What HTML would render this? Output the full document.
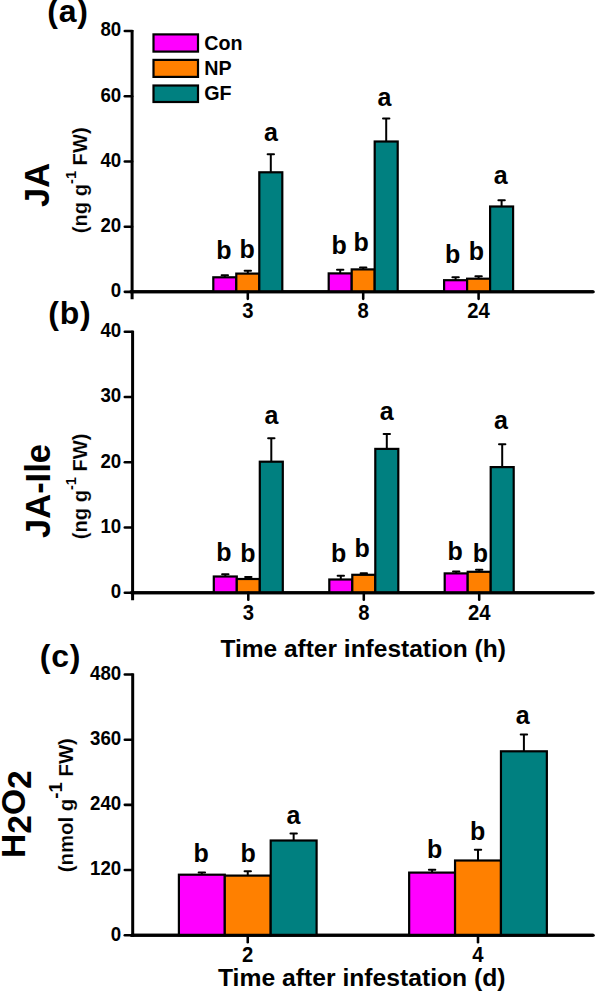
<!DOCTYPE html><html><head><meta charset="utf-8"><style>html,body{margin:0;padding:0;background:#fff;}svg{display:block;}</style></head><body><svg width="596" height="992" viewBox="0 0 596 992" font-family='"Liberation Sans", sans-serif' font-weight="bold">
<rect width="596" height="992" fill="#fff"/>
<line x1="132.1" y1="29.95" x2="132.1" y2="299.35" stroke="#000" stroke-width="3.0"/>
<line x1="130.60" y1="291.85" x2="593.3" y2="291.85" stroke="#000" stroke-width="3.0" stroke-linecap="butt"/>
<line x1="124.8" y1="31.05" x2="132.1" y2="31.05" stroke="#000" stroke-width="2.55" stroke-linecap="round"/>
<text transform="translate(121.20,36.45) scale(1.0,1.05)" font-size="18.7" text-anchor="end" >80</text>
<line x1="124.8" y1="96.25" x2="132.1" y2="96.25" stroke="#000" stroke-width="2.55" stroke-linecap="round"/>
<text transform="translate(121.20,101.65) scale(1.0,1.05)" font-size="18.7" text-anchor="end" >60</text>
<line x1="124.8" y1="161.45" x2="132.1" y2="161.45" stroke="#000" stroke-width="2.55" stroke-linecap="round"/>
<text transform="translate(121.20,166.85) scale(1.0,1.05)" font-size="18.7" text-anchor="end" >40</text>
<line x1="124.8" y1="226.65" x2="132.1" y2="226.65" stroke="#000" stroke-width="2.55" stroke-linecap="round"/>
<text transform="translate(121.20,232.05) scale(1.0,1.05)" font-size="18.7" text-anchor="end" >20</text>
<line x1="124.8" y1="291.85" x2="132.1" y2="291.85" stroke="#000" stroke-width="2.55" stroke-linecap="round"/>
<text transform="translate(121.20,297.25) scale(1.0,1.05)" font-size="18.7" text-anchor="end" >0</text>
<line x1="224.80" y1="275.30" x2="224.80" y2="277.30" stroke="#000" stroke-width="2.0"/>
<line x1="221.60" y1="275.30" x2="228.00" y2="275.30" stroke="#000" stroke-width="2.0" stroke-linecap="round"/>
<rect x="213.30" y="277.30" width="23.00" height="14.55" fill="#ff00ff" stroke="#000" stroke-width="2.2"/>
<line x1="247.80" y1="270.80" x2="247.80" y2="273.60" stroke="#000" stroke-width="2.0"/>
<line x1="244.60" y1="270.80" x2="251.00" y2="270.80" stroke="#000" stroke-width="2.0" stroke-linecap="round"/>
<rect x="236.30" y="273.60" width="23.00" height="18.25" fill="#ff8000" stroke="#000" stroke-width="2.2"/>
<line x1="270.80" y1="154.30" x2="270.80" y2="172.30" stroke="#000" stroke-width="2.0"/>
<line x1="267.60" y1="154.30" x2="274.00" y2="154.30" stroke="#000" stroke-width="2.0" stroke-linecap="round"/>
<rect x="259.30" y="172.30" width="23.00" height="119.55" fill="#008080" stroke="#000" stroke-width="2.2"/>
<line x1="247.80" y1="291.85" x2="247.80" y2="298.85" stroke="#000" stroke-width="2.55" stroke-linecap="round"/>
<line x1="340.20" y1="269.80" x2="340.20" y2="273.40" stroke="#000" stroke-width="2.0"/>
<line x1="337.00" y1="269.80" x2="343.40" y2="269.80" stroke="#000" stroke-width="2.0" stroke-linecap="round"/>
<rect x="328.70" y="273.40" width="23.00" height="18.45" fill="#ff00ff" stroke="#000" stroke-width="2.2"/>
<line x1="363.20" y1="267.60" x2="363.20" y2="269.40" stroke="#000" stroke-width="2.0"/>
<line x1="360.00" y1="267.60" x2="366.40" y2="267.60" stroke="#000" stroke-width="2.0" stroke-linecap="round"/>
<rect x="351.70" y="269.40" width="23.00" height="22.45" fill="#ff8000" stroke="#000" stroke-width="2.2"/>
<line x1="386.20" y1="118.60" x2="386.20" y2="141.50" stroke="#000" stroke-width="2.0"/>
<line x1="383.00" y1="118.60" x2="389.40" y2="118.60" stroke="#000" stroke-width="2.0" stroke-linecap="round"/>
<rect x="374.70" y="141.50" width="23.00" height="150.35" fill="#008080" stroke="#000" stroke-width="2.2"/>
<line x1="363.20" y1="291.85" x2="363.20" y2="298.85" stroke="#000" stroke-width="2.55" stroke-linecap="round"/>
<line x1="455.60" y1="277.30" x2="455.60" y2="280.20" stroke="#000" stroke-width="2.0"/>
<line x1="452.40" y1="277.30" x2="458.80" y2="277.30" stroke="#000" stroke-width="2.0" stroke-linecap="round"/>
<rect x="444.10" y="280.20" width="23.00" height="11.65" fill="#ff00ff" stroke="#000" stroke-width="2.2"/>
<line x1="478.60" y1="276.20" x2="478.60" y2="278.70" stroke="#000" stroke-width="2.0"/>
<line x1="475.40" y1="276.20" x2="481.80" y2="276.20" stroke="#000" stroke-width="2.0" stroke-linecap="round"/>
<rect x="467.10" y="278.70" width="23.00" height="13.15" fill="#ff8000" stroke="#000" stroke-width="2.2"/>
<line x1="501.60" y1="200.30" x2="501.60" y2="206.50" stroke="#000" stroke-width="2.0"/>
<line x1="498.40" y1="200.30" x2="504.80" y2="200.30" stroke="#000" stroke-width="2.0" stroke-linecap="round"/>
<rect x="490.10" y="206.50" width="23.00" height="85.35" fill="#008080" stroke="#000" stroke-width="2.2"/>
<line x1="478.60" y1="291.85" x2="478.60" y2="298.85" stroke="#000" stroke-width="2.55" stroke-linecap="round"/>
<line x1="130.60" y1="291.85" x2="593.3" y2="291.85" stroke="#000" stroke-width="3.0" stroke-linecap="round"/>
<text x="223.84" y="258.89" font-size="25" text-anchor="middle">b</text>
<text x="247.09" y="257.84" font-size="25" text-anchor="middle">b</text>
<text x="270.86" y="140.70" font-size="25" text-anchor="middle">a</text>
<text x="339.24" y="253.74" font-size="25" text-anchor="middle">b</text>
<text x="361.04" y="251.34" font-size="25" text-anchor="middle">b</text>
<text x="384.51" y="106.10" font-size="25" text-anchor="middle">a</text>
<text x="452.58" y="262.69" font-size="25" text-anchor="middle">b</text>
<text x="476.38" y="260.34" font-size="25" text-anchor="middle">b</text>
<text x="500.61" y="184.10" font-size="25" text-anchor="middle">a</text>
<text transform="translate(247.80,318.10) scale(1.04,1.13)" font-size="19.5" text-anchor="middle" >3</text>
<text transform="translate(363.20,318.10) scale(1.04,1.13)" font-size="19.5" text-anchor="middle" >8</text>
<text transform="translate(478.60,318.10) scale(1.04,1.13)" font-size="19.5" text-anchor="middle" >24</text>
<line x1="132.6" y1="330.70" x2="132.6" y2="600.30" stroke="#000" stroke-width="3.0"/>
<line x1="131.10" y1="592.8" x2="593.3" y2="592.8" stroke="#000" stroke-width="3.0" stroke-linecap="butt"/>
<line x1="124.8" y1="331.80" x2="132.6" y2="331.80" stroke="#000" stroke-width="2.55" stroke-linecap="round"/>
<text transform="translate(121.20,337.20) scale(1.0,1.05)" font-size="18.7" text-anchor="end" >40</text>
<line x1="124.8" y1="397.05" x2="132.6" y2="397.05" stroke="#000" stroke-width="2.55" stroke-linecap="round"/>
<text transform="translate(121.20,402.45) scale(1.0,1.05)" font-size="18.7" text-anchor="end" >30</text>
<line x1="124.8" y1="462.30" x2="132.6" y2="462.30" stroke="#000" stroke-width="2.55" stroke-linecap="round"/>
<text transform="translate(121.20,467.70) scale(1.0,1.05)" font-size="18.7" text-anchor="end" >20</text>
<line x1="124.8" y1="527.55" x2="132.6" y2="527.55" stroke="#000" stroke-width="2.55" stroke-linecap="round"/>
<text transform="translate(121.20,532.95) scale(1.0,1.05)" font-size="18.7" text-anchor="end" >10</text>
<line x1="124.8" y1="592.80" x2="132.6" y2="592.80" stroke="#000" stroke-width="2.55" stroke-linecap="round"/>
<text transform="translate(121.20,598.20) scale(1.0,1.05)" font-size="18.7" text-anchor="end" >0</text>
<line x1="225.30" y1="574.30" x2="225.30" y2="576.50" stroke="#000" stroke-width="2.0"/>
<line x1="222.10" y1="574.30" x2="228.50" y2="574.30" stroke="#000" stroke-width="2.0" stroke-linecap="round"/>
<rect x="213.80" y="576.50" width="23.00" height="16.30" fill="#ff00ff" stroke="#000" stroke-width="2.2"/>
<line x1="248.30" y1="577.00" x2="248.30" y2="579.00" stroke="#000" stroke-width="2.0"/>
<line x1="245.10" y1="577.00" x2="251.50" y2="577.00" stroke="#000" stroke-width="2.0" stroke-linecap="round"/>
<rect x="236.80" y="579.00" width="23.00" height="13.80" fill="#ff8000" stroke="#000" stroke-width="2.2"/>
<line x1="271.30" y1="438.30" x2="271.30" y2="461.70" stroke="#000" stroke-width="2.0"/>
<line x1="268.10" y1="438.30" x2="274.50" y2="438.30" stroke="#000" stroke-width="2.0" stroke-linecap="round"/>
<rect x="259.80" y="461.70" width="23.00" height="131.10" fill="#008080" stroke="#000" stroke-width="2.2"/>
<line x1="248.30" y1="592.8" x2="248.30" y2="599.80" stroke="#000" stroke-width="2.55" stroke-linecap="round"/>
<line x1="340.80" y1="575.70" x2="340.80" y2="579.50" stroke="#000" stroke-width="2.0"/>
<line x1="337.60" y1="575.70" x2="344.00" y2="575.70" stroke="#000" stroke-width="2.0" stroke-linecap="round"/>
<rect x="329.30" y="579.50" width="23.00" height="13.30" fill="#ff00ff" stroke="#000" stroke-width="2.2"/>
<line x1="363.80" y1="573.20" x2="363.80" y2="574.80" stroke="#000" stroke-width="2.0"/>
<line x1="360.60" y1="573.20" x2="367.00" y2="573.20" stroke="#000" stroke-width="2.0" stroke-linecap="round"/>
<rect x="352.30" y="574.80" width="23.00" height="18.00" fill="#ff8000" stroke="#000" stroke-width="2.2"/>
<line x1="386.80" y1="433.90" x2="386.80" y2="448.90" stroke="#000" stroke-width="2.0"/>
<line x1="383.60" y1="433.90" x2="390.00" y2="433.90" stroke="#000" stroke-width="2.0" stroke-linecap="round"/>
<rect x="375.30" y="448.90" width="23.00" height="143.90" fill="#008080" stroke="#000" stroke-width="2.2"/>
<line x1="363.80" y1="592.8" x2="363.80" y2="599.80" stroke="#000" stroke-width="2.55" stroke-linecap="round"/>
<line x1="456.20" y1="571.50" x2="456.20" y2="573.40" stroke="#000" stroke-width="2.0"/>
<line x1="453.00" y1="571.50" x2="459.40" y2="571.50" stroke="#000" stroke-width="2.0" stroke-linecap="round"/>
<rect x="444.70" y="573.40" width="23.00" height="19.40" fill="#ff00ff" stroke="#000" stroke-width="2.2"/>
<line x1="479.20" y1="569.80" x2="479.20" y2="571.80" stroke="#000" stroke-width="2.0"/>
<line x1="476.00" y1="569.80" x2="482.40" y2="569.80" stroke="#000" stroke-width="2.0" stroke-linecap="round"/>
<rect x="467.70" y="571.80" width="23.00" height="21.00" fill="#ff8000" stroke="#000" stroke-width="2.2"/>
<line x1="502.20" y1="444.30" x2="502.20" y2="467.10" stroke="#000" stroke-width="2.0"/>
<line x1="499.00" y1="444.30" x2="505.40" y2="444.30" stroke="#000" stroke-width="2.0" stroke-linecap="round"/>
<rect x="490.70" y="467.10" width="23.00" height="125.70" fill="#008080" stroke="#000" stroke-width="2.2"/>
<line x1="479.20" y1="592.8" x2="479.20" y2="599.80" stroke="#000" stroke-width="2.55" stroke-linecap="round"/>
<line x1="131.10" y1="592.8" x2="593.3" y2="592.8" stroke="#000" stroke-width="3.0" stroke-linecap="round"/>
<text x="223.84" y="560.69" font-size="25" text-anchor="middle">b</text>
<text x="247.94" y="562.24" font-size="25" text-anchor="middle">b</text>
<text x="271.36" y="423.95" font-size="25" text-anchor="middle">a</text>
<text x="338.74" y="562.24" font-size="25" text-anchor="middle">b</text>
<text x="362.04" y="556.89" font-size="25" text-anchor="middle">b</text>
<text x="386.81" y="420.00" font-size="25" text-anchor="middle">a</text>
<text x="455.04" y="560.19" font-size="25" text-anchor="middle">b</text>
<text x="480.29" y="562.29" font-size="25" text-anchor="middle">b</text>
<text x="500.86" y="429.35" font-size="25" text-anchor="middle">a</text>
<text transform="translate(248.30,619.50) scale(1.04,1.13)" font-size="19.5" text-anchor="middle" >3</text>
<text transform="translate(363.80,619.50) scale(1.04,1.13)" font-size="19.5" text-anchor="middle" >8</text>
<text transform="translate(479.20,619.50) scale(1.04,1.13)" font-size="19.5" text-anchor="middle" >24</text>
<line x1="132.7" y1="673.40" x2="132.7" y2="936.70" stroke="#000" stroke-width="3.0"/>
<line x1="131.20" y1="935.2" x2="593.3" y2="935.2" stroke="#000" stroke-width="3.0" stroke-linecap="butt"/>
<line x1="124.8" y1="674.50" x2="132.7" y2="674.50" stroke="#000" stroke-width="2.55" stroke-linecap="round"/>
<text transform="translate(121.20,679.90) scale(1.0,1.05)" font-size="18.7" text-anchor="end" >480</text>
<line x1="124.8" y1="739.67" x2="132.7" y2="739.67" stroke="#000" stroke-width="2.55" stroke-linecap="round"/>
<text transform="translate(121.20,745.07) scale(1.0,1.05)" font-size="18.7" text-anchor="end" >360</text>
<line x1="124.8" y1="804.85" x2="132.7" y2="804.85" stroke="#000" stroke-width="2.55" stroke-linecap="round"/>
<text transform="translate(121.20,810.25) scale(1.0,1.05)" font-size="18.7" text-anchor="end" >240</text>
<line x1="124.8" y1="870.03" x2="132.7" y2="870.03" stroke="#000" stroke-width="2.55" stroke-linecap="round"/>
<text transform="translate(121.20,875.43) scale(1.0,1.05)" font-size="18.7" text-anchor="end" >120</text>
<line x1="124.8" y1="935.20" x2="132.7" y2="935.20" stroke="#000" stroke-width="2.55" stroke-linecap="round"/>
<text transform="translate(121.20,940.60) scale(1.0,1.05)" font-size="18.7" text-anchor="end" >0</text>
<line x1="201.85" y1="872.60" x2="201.85" y2="874.70" stroke="#000" stroke-width="2.0"/>
<line x1="198.65" y1="872.60" x2="205.05" y2="872.60" stroke="#000" stroke-width="2.0" stroke-linecap="round"/>
<rect x="178.90" y="874.70" width="45.90" height="60.50" fill="#ff00ff" stroke="#000" stroke-width="2.2"/>
<line x1="247.75" y1="871.30" x2="247.75" y2="875.60" stroke="#000" stroke-width="2.0"/>
<line x1="244.55" y1="871.30" x2="250.95" y2="871.30" stroke="#000" stroke-width="2.0" stroke-linecap="round"/>
<rect x="224.80" y="875.60" width="45.90" height="59.60" fill="#ff8000" stroke="#000" stroke-width="2.2"/>
<line x1="293.65" y1="833.50" x2="293.65" y2="840.50" stroke="#000" stroke-width="2.0"/>
<line x1="290.45" y1="833.50" x2="296.85" y2="833.50" stroke="#000" stroke-width="2.0" stroke-linecap="round"/>
<rect x="270.70" y="840.50" width="45.90" height="94.70" fill="#008080" stroke="#000" stroke-width="2.2"/>
<line x1="247.75" y1="935.2" x2="247.75" y2="942.20" stroke="#000" stroke-width="2.55" stroke-linecap="round"/>
<line x1="432.10" y1="869.70" x2="432.10" y2="872.60" stroke="#000" stroke-width="2.0"/>
<line x1="428.90" y1="869.70" x2="435.30" y2="869.70" stroke="#000" stroke-width="2.0" stroke-linecap="round"/>
<rect x="409.15" y="872.60" width="45.90" height="62.60" fill="#ff00ff" stroke="#000" stroke-width="2.2"/>
<line x1="478.00" y1="849.80" x2="478.00" y2="860.50" stroke="#000" stroke-width="2.0"/>
<line x1="474.80" y1="849.80" x2="481.20" y2="849.80" stroke="#000" stroke-width="2.0" stroke-linecap="round"/>
<rect x="455.05" y="860.50" width="45.90" height="74.70" fill="#ff8000" stroke="#000" stroke-width="2.2"/>
<line x1="523.90" y1="734.60" x2="523.90" y2="751.30" stroke="#000" stroke-width="2.0"/>
<line x1="520.70" y1="734.60" x2="527.10" y2="734.60" stroke="#000" stroke-width="2.0" stroke-linecap="round"/>
<rect x="500.95" y="751.30" width="45.90" height="183.90" fill="#008080" stroke="#000" stroke-width="2.2"/>
<line x1="478.00" y1="935.2" x2="478.00" y2="942.20" stroke="#000" stroke-width="2.55" stroke-linecap="round"/>
<line x1="131.20" y1="935.2" x2="593.3" y2="935.2" stroke="#000" stroke-width="3.0" stroke-linecap="round"/>
<text x="201.24" y="862.39" font-size="25" text-anchor="middle">b</text>
<text x="248.03" y="862.39" font-size="25" text-anchor="middle">b</text>
<text x="293.56" y="823.85" font-size="25" text-anchor="middle">a</text>
<text x="434.58" y="858.24" font-size="25" text-anchor="middle">b</text>
<text x="477.54" y="840.44" font-size="25" text-anchor="middle">b</text>
<text x="522.61" y="723.70" font-size="25" text-anchor="middle">a</text>
<text transform="translate(247.75,962.30) scale(1.04,1.13)" font-size="19.5" text-anchor="middle" >2</text>
<text transform="translate(478.00,962.30) scale(1.04,1.13)" font-size="19.5" text-anchor="middle" >4</text>
<rect x="153.50" y="34.40" width="44.50" height="17.20" fill="#ff00ff" stroke="#000" stroke-width="2.2"/>
<text x="204.20" y="49.58" font-size="19.7" text-anchor="start" >Con</text>
<rect x="153.50" y="59.90" width="44.50" height="17.00" fill="#ff8000" stroke="#000" stroke-width="2.2"/>
<text x="204.20" y="74.98" font-size="19.7" text-anchor="start" >NP</text>
<rect x="153.50" y="85.50" width="44.50" height="16.50" fill="#008080" stroke="#000" stroke-width="2.2"/>
<text x="204.20" y="100.33" font-size="19.7" text-anchor="start" >GF</text>
<text x="47.20" y="21.50" font-size="32" text-anchor="start" letter-spacing="0.8">(a)</text>
<text x="48.20" y="323.50" font-size="32" text-anchor="start" letter-spacing="0.8">(b)</text>
<text x="39.70" y="666.50" font-size="32" text-anchor="start" letter-spacing="0.8">(c)</text>
<text x="363.10" y="657.20" font-size="24.5" text-anchor="middle" >Time after infestation (h)</text>
<text x="361.80" y="986.20" font-size="24.7" text-anchor="middle" >Time after infestation (d)</text>
<text transform="translate(49.00,185.00) rotate(-90)" text-anchor="middle" ><tspan font-size="34.5">JA</tspan></text>
<text transform="translate(50.40,491.00) rotate(-90)" text-anchor="middle" ><tspan font-size="34.5">JA-Ile</tspan></text>
<text transform="translate(25.40,814.20) rotate(-90)" text-anchor="middle" ><tspan font-size="33.5">H</tspan><tspan font-size="33.5" dy="5.9">2</tspan><tspan font-size="33.5" dy="-5.9">O</tspan><tspan font-size="33.5" dy="5.9">2</tspan></text>
<text transform="translate(86.80,180.30) rotate(-90) scale(0.97,1)" text-anchor="middle" stroke="#fff" stroke-width="0.16"><tspan font-size="20.8">(ng g</tspan><tspan font-size="15" stroke="none" dy="-10.8">-1</tspan><tspan font-size="20.8" dy="10.8"> FW)</tspan></text>
<text transform="translate(87.00,486.40) rotate(-90) scale(0.967,1)" text-anchor="middle" stroke="#fff" stroke-width="0.16"><tspan font-size="20.8">(ng g</tspan><tspan font-size="15" stroke="none" dy="-10.8">-1</tspan><tspan font-size="20.8" dy="10.8"> FW)</tspan></text>
<text transform="translate(72.90,805.20) rotate(-90) scale(0.98,1)" text-anchor="middle" stroke="#fff" stroke-width="0.16"><tspan font-size="20.8">(nmol g</tspan><tspan font-size="19" stroke="none" dy="-11">-1</tspan><tspan font-size="20.8" dy="11"> FW)</tspan></text>
</svg></body></html>
